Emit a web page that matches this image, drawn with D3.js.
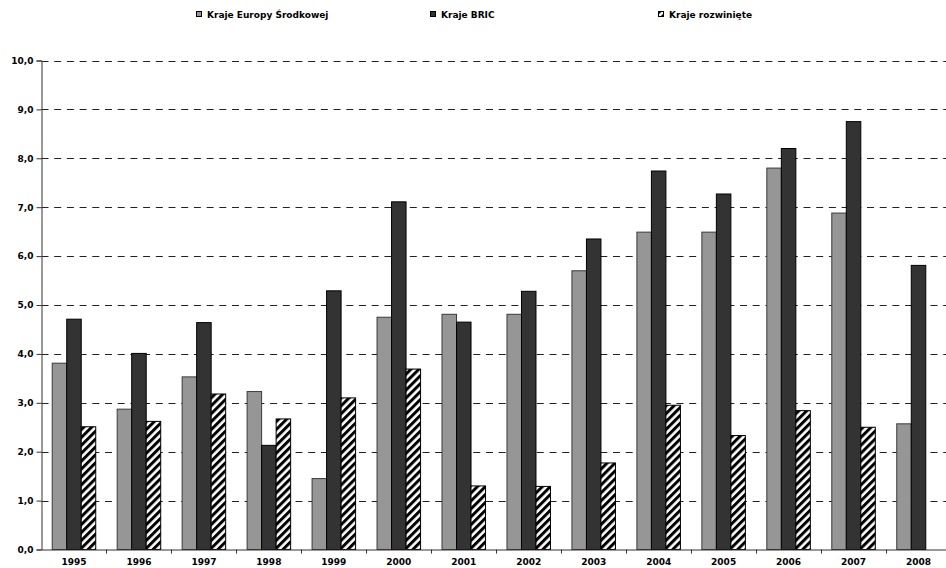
<!DOCTYPE html>
<html>
<head>
<meta charset="utf-8">
<script src="https://cdn.jsdelivr.net/npm/d3@7/dist/d3.min.js"></script>
<style>
  html, body { margin: 0; padding: 0; background: #fff; }
  svg { display: block; }
  text { font-family: "DejaVu Sans", Verdana, sans-serif; font-weight: bold; font-size: 9px; fill: #000; }
</style>
</head>
<body>
<svg id="chart" width="946" height="568"></svg>
<script>
// Years on the category axis
const years = ["1995","1996","1997","1998","1999","2000","2001","2002","2003","2004","2005","2006","2007","2008"];

// Series names (legend order)
const seriesNames = ["Kraje Europy Środkowej", "Kraje BRIC", "Kraje rozwinięte"];

// Series values per year
const centralEurope = [3.81, 2.87, 3.53, 3.23, 1.45, 4.75, 4.81, 4.81, 5.70, 6.49, 6.49, 7.80, 6.88, 2.57];
const bric          = [4.71, 4.01, 4.64, 2.13, 5.29, 7.11, 4.65, 5.28, 6.35, 7.74, 7.27, 8.20, 8.75, 5.81];
const developed     = [2.51, 2.62, 3.18, 2.67, 3.10, 3.69, 1.30, 1.29, 1.77, 2.95, 2.33, 2.84, 2.50, null];

// Value axis ticks
const yTicks = [0,1,2,3,4,5,6,7,8,9,10];

const seriesValues = [centralEurope, bric, developed];

const svg = d3.select("#chart");
const defs = svg.append("defs");

// Wide upward diagonal hatch
defs.append("pattern")
  .attr("id", "hatch")
  .attr("patternUnits", "userSpaceOnUse")
  .attr("width", 5.6).attr("height", 5.6)
  .attr("patternTransform", "rotate(45)")
  .call(p => {
    p.append("rect").attr("width", 5.6).attr("height", 5.6).attr("fill", "#fff");
    p.append("rect").attr("width", 3).attr("height", 5.6).attr("fill", "#000");
  });

const fills = ["#969696", "#333333", "url(#hatch)"];
const strokes = ["#3a3a3a", "#000", "#000"];

const plotLeft = 41.5, plotRight = 951, plotTop = 60.5, plotBottom = 549.5;

const x = d3.scaleBand().domain(years).range([plotLeft, plotRight]).paddingInner(0).paddingOuter(0);
const groupWidth = x.bandwidth() * 0.67;
const xs = d3.scaleBand().domain(d3.range(seriesNames.length))
  .range([(x.bandwidth() - groupWidth) / 2, (x.bandwidth() + groupWidth) / 2]);
const y = d3.scaleLinear().domain([0, 10]).range([plotBottom, plotTop]);

// Dashed horizontal gridlines
svg.append("g")
  .selectAll("line")
  .data(yTicks.filter(d => d > 0))
  .join("line")
  .attr("x1", plotLeft).attr("x2", plotRight)
  .attr("y1", d => Math.round(y(d)) + 0.5).attr("y2", d => Math.round(y(d)) + 0.5)
  .attr("stroke", "#222")
  .attr("stroke-dasharray", "7,5.7");

// Bars
const groups = svg.append("g")
  .selectAll("g")
  .data(years)
  .join("g")
  .attr("transform", d => `translate(${x(d)},0)`);

groups.selectAll("rect")
  .data((d, i) => seriesValues.map((s, k) => ({ k, v: s[i] })).filter(o => o.v != null))
  .join("rect")
  .attr("x", o => xs(o.k))
  .attr("width", xs.bandwidth())
  .attr("y", o => y(o.v))
  .attr("height", o => plotBottom - y(o.v))
  .attr("fill", o => fills[o.k])
  .attr("stroke", o => strokes[o.k])
  .attr("stroke-width", 1);

// Value axis
const fmt = d3.format(".1f");
const yAxis = svg.append("g")
  .attr("transform", `translate(${plotLeft},0)`)
  .call(d3.axisLeft(y).tickValues(yTicks).tickSize(5).tickPadding(3)
    .tickFormat(d => fmt(d).replace(".", ",")));
yAxis.select(".domain").attr("stroke", "#333");
yAxis.selectAll(".tick line").attr("stroke", "#333");
yAxis.selectAll("text").style("font-size", "9px").style("font-family", "DejaVu Sans, sans-serif")
  .style("font-weight", "bold");

// Category axis
const xAxis = svg.append("g")
  .attr("transform", `translate(0,${plotBottom})`)
  .call(d3.axisBottom(x).tickSize(0).tickPadding(9));
xAxis.select(".domain").attr("stroke", "#333");
xAxis.selectAll("text").style("font-size", "9px").style("font-family", "DejaVu Sans, sans-serif")
  .style("font-weight", "bold");
// Tick marks between categories
xAxis.append("g")
  .selectAll("line")
  .data(years.slice(1))
  .join("line")
  .attr("x1", d => Math.round(x(d)) + 0.5).attr("x2", d => Math.round(x(d)) + 0.5)
  .attr("y1", 0).attr("y2", 4)
  .attr("stroke", "#333");

// Legend
const legendX = [196, 430, 658];
const legend = svg.append("g")
  .selectAll("g")
  .data(seriesNames)
  .join("g")
  .attr("transform", (d, i) => `translate(${legendX[i]},11)`);
legend.append("rect")
  .attr("x", 0.5).attr("y", 0.5).attr("width", 5).attr("height", 5)
  .attr("fill", (d, i) => fills[i])
  .attr("stroke", "#000");
legend.append("text")
  .attr("x", 11).attr("y", 6.5)
  .text(d => d);
</script>
</body>
</html>
